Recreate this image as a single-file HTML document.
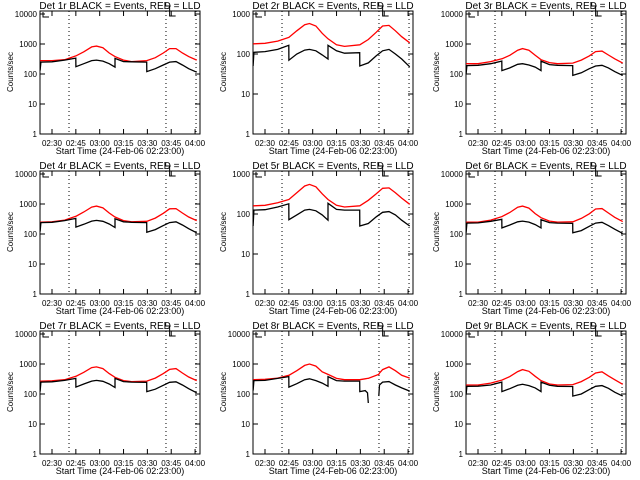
<!DOCTYPE html>
<html><head><meta charset="utf-8"><style>
body{margin:0;background:#fff;}
svg{display:block;font-family:"Liberation Sans",sans-serif;}
</style></head><body>
<svg id="c" width="640" height="480" viewBox="0 0 640 480"></svg>
<script>
const T=[22.5,23,30,38,45,45.01,50,55,58,62,66,69.6,69.61,75,80,89.6,89.61,95,100,104,108,112,116,121];
const T8=[22.5,23,30,38,45,45.01,50,55,58,62,66,69.6,69.61,75,80,89.6,89.61,93,94.5,95,101.5,101.6,102,104,108,112,116,121];
const detNames=["1r","2r","3r","4r","5r","6r","7r","8r","9r"];
const yMaxDecade=[4,3,4,4,3,4,4,4,4];
const xTickLabels=["02:30","02:45","03:00","03:15","03:30","03:45","04:00"];
const xTickTimes=[30,45,60,75,90,105,120];
const dottedTimes=[40.7,101.7,120.6];
const red1=[280,280,280,300,400,400,550,800,850,750,500,380,380,290,260,280,280,350,500,700,700,500,380,290];
const blk1=[130,250,255,290,340,175,220,280,290,270,220,170,330,260,255,250,120,150,200,250,260,200,150,115];
const red2=[180,180,185,210,260,260,380,540,580,500,330,240,240,170,155,170,170,230,350,500,520,380,270,190];
const blk2=[50,110,115,130,165,70,100,125,130,120,95,75,165,120,105,108,50,60,90,120,130,100,75,48];
const red3=[220,220,220,260,320,320,420,620,700,620,420,300,300,240,220,230,230,290,400,560,580,430,320,230];
const blk3=[100,190,195,220,270,130,160,210,220,200,170,130,270,205,195,190,90,110,150,185,195,160,120,90];
const red4=[250,250,255,290,390,390,540,790,850,740,500,370,370,280,255,265,265,340,490,690,700,500,370,280];
const blk4=[120,240,245,280,330,170,210,270,285,265,215,165,320,255,245,240,115,140,190,240,255,200,150,110];
const red5=[160,160,165,190,230,230,340,500,550,480,320,230,230,165,150,160,160,220,320,440,450,340,250,175];
const blk5=[50,125,128,150,180,72,95,125,130,120,95,70,185,130,125,125,50,58,85,110,115,95,70,50];
const red6=[250,250,250,290,380,380,520,780,850,730,480,350,350,270,250,255,255,330,470,680,700,500,360,260];
const blk6=[110,230,235,265,310,160,200,255,270,250,205,160,300,240,230,225,110,130,180,230,245,190,145,105];
const red7=[270,270,275,300,390,390,530,760,800,700,480,360,360,280,260,270,270,340,480,660,700,500,370,280];
const blk7=[120,250,255,285,330,170,215,270,285,265,215,165,330,260,250,245,120,145,195,245,255,200,150,110];
const red8=[300,300,310,340,420,420,600,900,1000,850,550,450,450,330,300,300,300,320,330,330,450,450,500,650,800,600,420,340];
const blk8=[130,280,285,330,380,170,220,300,320,280,230,180,380,280,270,270,120,130,110,50,null,85,200,250,260,200,160,125];
const red9=[200,200,200,230,290,290,380,560,650,570,390,280,280,215,200,205,205,260,360,500,550,400,300,210];
const blk9=[95,180,182,200,250,120,150,195,210,190,160,120,250,195,180,178,85,100,140,180,190,155,115,85];
const redSeries=[red1,red2,red3,red4,red5,red6,red7,red8,red9];
const blkSeries=[blk1,blk2,blk3,blk4,blk5,blk6,blk7,blk8,blk9];

const NS="http://www.w3.org/2000/svg";
const svg=document.getElementById('c');
function mk(tag,attrs,parent){const e=document.createElementNS(NS,tag);for(const k in attrs)e.setAttribute(k,attrs[k]);(parent||svg).appendChild(e);return e;}
const TMIN=22.45,TMAX=123.1;

for(let p=0;p<9;p++){
  const ox=(p%3)*213, oy=Math.floor(p/3)*160;
  const L=ox+40,R=ox+200,TOP=oy+11,BOT=oy+134;
  const dec=yMaxDecade[p];
  const decPx=120/dec;
  const xs=t=>L+(t-TMIN)*(R-L)/(TMAX-TMIN);
  const ys=v=>BOT-Math.log10(v)*decPx;
  const g=mk('g',{});
  
  
  const title=mk('text',{x:ox+120,y:oy+9,'font-size':10,'text-anchor':'middle'},g);
  title.textContent='Det '+detNames[p]+' BLACK = Events, RED = LLD';
  
  
  const frame=mk('rect',{x:L,y:TOP,width:R-L,height:BOT-TOP,fill:'none',stroke:'#000','stroke-width':1},g);
  
  
  // y ticks
  for(let d=0;d<=dec;d++){
    const y=ys(Math.pow(10,d));
    mk('line',{x1:L,x2:L+5,y1:y,y2:y,stroke:'#000'},g);
    mk('line',{x1:R,x2:R-5,y1:y,y2:y,stroke:'#000'},g);
    const tl=mk('text',{x:L-3,y:y+3,'font-size':8,'text-anchor':'end'},g);
    tl.textContent=String(Math.pow(10,d));
    
    
  }
  // x ticks
  for(let i=0;i<xTickTimes.length;i++){
    const x=xs(xTickTimes[i]);
    mk('line',{x1:x,x2:x,y1:BOT,y2:BOT-5,stroke:'#000'},g);
    mk('line',{x1:x,x2:x,y1:TOP,y2:TOP+5,stroke:'#000'},g);
    const xl=mk('text',{x:x,y:oy+146,'font-size':8,'text-anchor':'middle'},g);
    xl.textContent=xTickLabels[i];
    
    
  }
  const xt=mk('text',{x:ox+120,y:oy+154,'font-size':9,'text-anchor':'middle'},g);
  xt.textContent='Start Time (24-Feb-06 02:23:00)';
  
  
  const yt=mk('text',{x:0,y:0,'font-size':8,'text-anchor':'middle',transform:'translate('+(ox+13)+','+(oy+72)+') rotate(-90)'},g);
  yt.textContent='Counts/sec';
  
  
  // dotted lines
  for(const t of dottedTimes){
    const x=xs(t);
    const dl=mk('line',{x1:x,x2:x,y1:TOP,y2:BOT,stroke:'#000','stroke-dasharray':'1,3'},g);
    
    
  }
  // bracket markers
  const mx=xs(104);
  const m1=mk('path',{d:'M'+(L+3)+' '+(TOP+1)+'V'+(TOP+6)+'H'+(L+9),fill:'none',stroke:'#000'},g);
  
  
  const m2=mk('path',{d:'M'+(mx-4)+' '+(oy+3)+'V'+(oy+6)+'H'+(mx+1)+'M'+mx+' '+(oy+6)+'V'+(oy+16)+'H'+(mx+6),fill:'none',stroke:'#000'},g);
  
  
  const times=(p===7)?T8:T;
  const draw=(vals,color,name)=>{
    let d='',pen=false;
    for(let i=0;i<times.length;i++){
      const v=vals[i];
      if(v===null||v===undefined){pen=false;continue;}
      d+=(pen?'L':'M')+xs(times[i]).toFixed(1)+' '+ys(v).toFixed(1);
      pen=true;
    }
    const pl=mk('path',{d:d,fill:'none',stroke:color,'stroke-width':1.3},g);
    
    
  };
  draw(redSeries[p],'#ff0000','lld-series-red');
  draw(blkSeries[p],'#000000','events-series-black');
}
</script>
</body></html>
